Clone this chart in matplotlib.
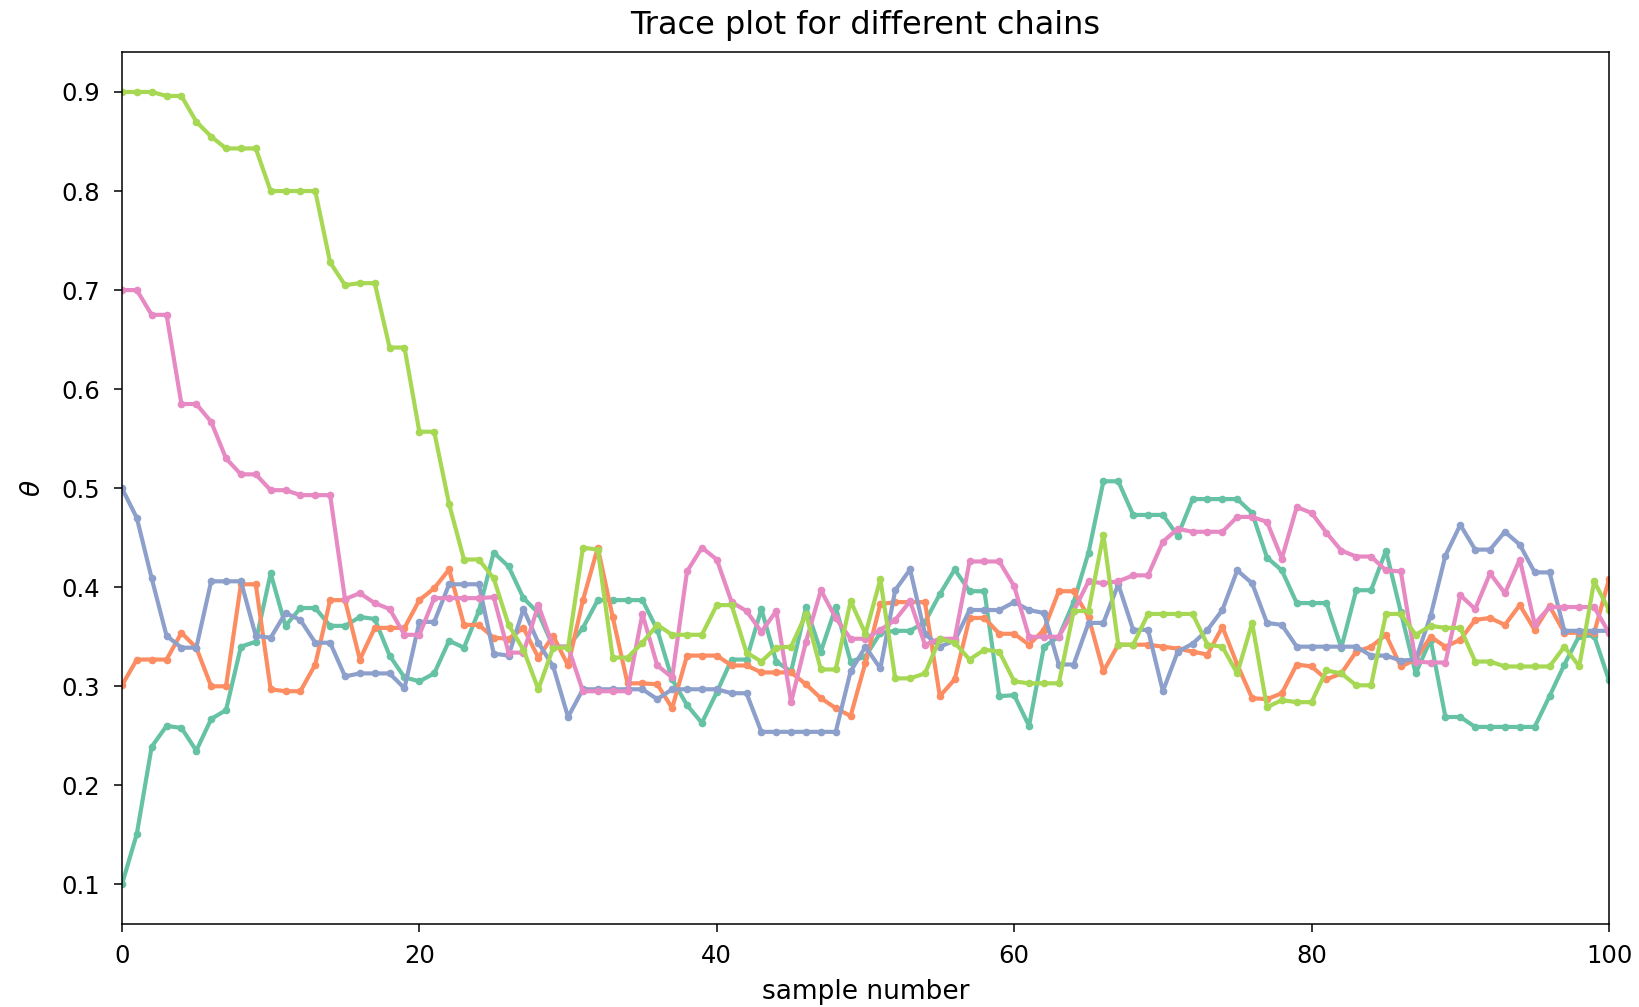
import numpy as np
import matplotlib
matplotlib.use("Agg")
import matplotlib.pyplot as plt

# five MCMC chains, each started from a different theta
chain_teal = [0.100, 0.151, 0.239, 0.260, 0.258, 0.235, 0.267, 0.276, 0.340, 0.345,
              0.414, 0.361, 0.379, 0.379, 0.361, 0.361, 0.370, 0.368, 0.331, 0.309,
              0.305, 0.313, 0.346, 0.339, 0.376, 0.435, 0.421, 0.389, 0.374, 0.340,
              0.340, 0.359, 0.387, 0.387, 0.387, 0.387, 0.357, 0.307, 0.281, 0.263,
              0.294, 0.327, 0.327, 0.378, 0.325, 0.315, 0.380, 0.335, 0.380, 0.325,
              0.330, 0.354, 0.356, 0.356, 0.365, 0.393, 0.418, 0.396, 0.396, 0.290,
              0.291, 0.260, 0.340, 0.350, 0.385, 0.435, 0.507, 0.507, 0.473, 0.473,
              0.473, 0.452, 0.489, 0.489, 0.489, 0.489, 0.475, 0.430, 0.417, 0.384,
              0.384, 0.384, 0.339, 0.397, 0.397, 0.437, 0.375, 0.313, 0.347, 0.269,
              0.269, 0.259, 0.259, 0.259, 0.259, 0.259, 0.290, 0.322, 0.351, 0.351,
              0.306]

chain_orange = [0.301, 0.327, 0.327, 0.327, 0.354, 0.339, 0.300, 0.300, 0.403, 0.403,
                0.297, 0.295, 0.295, 0.322, 0.387, 0.387, 0.327, 0.359, 0.359, 0.359,
                0.387, 0.399, 0.418, 0.362, 0.362, 0.349, 0.348, 0.359, 0.329, 0.351,
                0.321, 0.387, 0.440, 0.370, 0.303, 0.303, 0.302, 0.278, 0.331, 0.331,
                0.331, 0.321, 0.321, 0.314, 0.314, 0.314, 0.302, 0.288, 0.278, 0.270,
                0.324, 0.383, 0.385, 0.385, 0.385, 0.290, 0.307, 0.369, 0.369, 0.353,
                0.353, 0.342, 0.357, 0.396, 0.396, 0.370, 0.315, 0.342, 0.342, 0.342,
                0.340, 0.338, 0.335, 0.332, 0.360, 0.322, 0.288, 0.287, 0.293, 0.322,
                0.320, 0.307, 0.313, 0.335, 0.340, 0.352, 0.320, 0.327, 0.350, 0.340,
                0.347, 0.367, 0.369, 0.362, 0.382, 0.357, 0.381, 0.354, 0.354, 0.354,
                0.408]

chain_blue = [0.500, 0.470, 0.409, 0.351, 0.339, 0.339, 0.406, 0.406, 0.406, 0.351,
              0.349, 0.374, 0.367, 0.344, 0.344, 0.310, 0.313, 0.313, 0.313, 0.298,
              0.365, 0.365, 0.403, 0.403, 0.403, 0.333, 0.331, 0.378, 0.344, 0.320,
              0.269, 0.297, 0.297, 0.297, 0.297, 0.297, 0.287, 0.297, 0.297, 0.297,
              0.297, 0.293, 0.293, 0.254, 0.254, 0.254, 0.254, 0.254, 0.254, 0.315,
              0.340, 0.318, 0.397, 0.418, 0.353, 0.340, 0.346, 0.377, 0.377, 0.377,
              0.385, 0.377, 0.374, 0.322, 0.322, 0.364, 0.364, 0.403, 0.357, 0.357,
              0.295, 0.335, 0.343, 0.357, 0.377, 0.417, 0.404, 0.364, 0.362, 0.340,
              0.340, 0.340, 0.340, 0.340, 0.331, 0.331, 0.326, 0.327, 0.371, 0.432,
              0.463, 0.438, 0.438, 0.456, 0.443, 0.415, 0.415, 0.356, 0.356, 0.356,
              0.356]

chain_pink = [0.700, 0.700, 0.675, 0.675, 0.585, 0.585, 0.567, 0.530, 0.514, 0.514,
              0.498, 0.498, 0.493, 0.493, 0.493, 0.388, 0.394, 0.384, 0.378, 0.352,
              0.352, 0.389, 0.389, 0.389, 0.389, 0.390, 0.334, 0.334, 0.382, 0.340,
              0.340, 0.295, 0.295, 0.295, 0.295, 0.373, 0.321, 0.309, 0.416, 0.440,
              0.428, 0.385, 0.376, 0.355, 0.376, 0.284, 0.345, 0.397, 0.369, 0.348,
              0.348, 0.357, 0.367, 0.386, 0.342, 0.348, 0.348, 0.426, 0.426, 0.426,
              0.401, 0.350, 0.350, 0.350, 0.376, 0.406, 0.404, 0.406, 0.412, 0.412,
              0.446, 0.459, 0.456, 0.456, 0.456, 0.471, 0.471, 0.466, 0.429, 0.481,
              0.475, 0.455, 0.437, 0.431, 0.431, 0.417, 0.416, 0.325, 0.324, 0.324,
              0.392, 0.378, 0.414, 0.394, 0.428, 0.363, 0.380, 0.380, 0.380, 0.380,
              0.354]

chain_green = [0.900, 0.900, 0.900, 0.896, 0.896, 0.870, 0.855, 0.843, 0.843, 0.843,
               0.800, 0.800, 0.800, 0.800, 0.728, 0.705, 0.707, 0.707, 0.642, 0.642,
               0.557, 0.557, 0.484, 0.428, 0.428, 0.409, 0.362, 0.337, 0.297, 0.339,
               0.339, 0.440, 0.438, 0.329, 0.329, 0.344, 0.362, 0.352, 0.352, 0.352,
               0.382, 0.382, 0.334, 0.325, 0.339, 0.340, 0.373, 0.317, 0.317, 0.386,
               0.353, 0.408, 0.308, 0.308, 0.313, 0.348, 0.344, 0.327, 0.337, 0.335,
               0.305, 0.303, 0.303, 0.303, 0.376, 0.376, 0.453, 0.342, 0.342, 0.373,
               0.373, 0.373, 0.373, 0.342, 0.340, 0.313, 0.364, 0.279, 0.286, 0.284,
               0.284, 0.316, 0.313, 0.301, 0.301, 0.373, 0.373, 0.352, 0.361, 0.359,
               0.359, 0.325, 0.325, 0.320, 0.320, 0.320, 0.320, 0.340, 0.320, 0.406,
               0.377]

chains = [chain_teal, chain_orange, chain_blue, chain_pink, chain_green]
colors = ["#66c2a5", "#fc8d62", "#8da0cb", "#e78ac3", "#a6d854"]

fig = plt.figure(figsize=(16.39, 10.07), dpi=100)
ax = fig.add_axes([0.0744, 0.0824, 0.9073, 0.8656])

for chain, c in zip(chains, colors):
    ax.plot(np.arange(len(chain)), chain, color=c, marker=".", markersize=9, linewidth=3)

ax.set_xlim(0, 100)
ax.set_yticks([0.1, 0.2, 0.3, 0.4, 0.5, 0.6, 0.7, 0.8, 0.9])
ax.tick_params(labelsize=17.5, length=6, width=1.1)
ax.tick_params(axis="x", pad=8.5)
ax.tick_params(axis="y", pad=10)
for spine in ax.spines.values():
    spine.set_linewidth(1.1)
ax.set_xlabel("sample number", fontsize=19, labelpad=7.5)
ax.set_ylabel(r"$\theta$", fontsize=19, labelpad=10.5)
ax.set_title("Trace plot for different chains", fontsize=23, pad=13.5)

fig.savefig("out.png", dpi=100)
